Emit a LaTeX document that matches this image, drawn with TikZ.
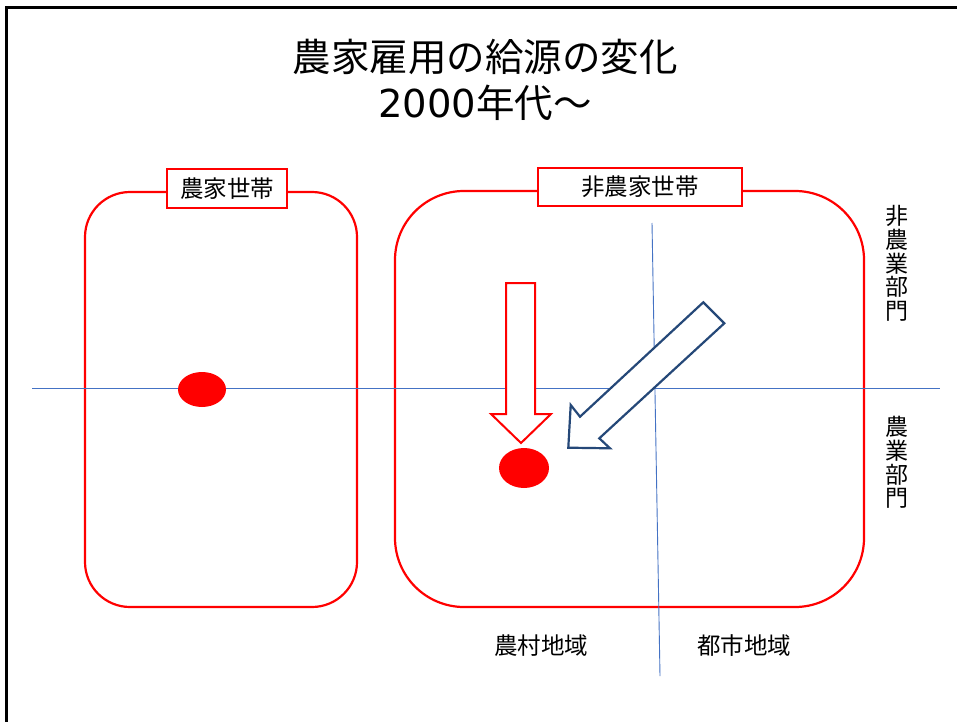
\documentclass[tikz,border=0pt]{standalone}
\usepackage{fontspec}
\setmainfont{Noto Sans CJK JP}
\newfontfamily\digitfont{DejaVu Sans}
\usetikzlibrary{shapes.geometric}
\definecolor{axisblue}{RGB}{68,114,196}
\definecolor{arrowblue}{RGB}{37,72,120}
\tikzset{
  household/.style={draw=red, line width=2.2pt, minimum width=#1, inner sep=0pt, outer sep=0pt},
  tag/.style={draw=red, line width=2pt, fill=white, inner sep=0pt, outer sep=0pt, font=\fontsize{23.5}{26}\selectfont},
  dot/.style={ellipse, fill=red, draw=none, inner sep=0pt},
  axis/.style={draw=axisblue, line width=0.9pt},
  vlabel/.style={align=center, font=\fontsize{23}{23.6}\selectfont, inner sep=0pt},
  blabel/.style={font=\fontsize{23.5}{26}\selectfont, inner sep=0pt}
}
\begin{document}
\begin{tikzpicture}[x=1pt,y=-1pt]
\useasboundingbox (0,0) rectangle (957,722);
\fill[white] (0,0) rectangle (957,722);
% frame
\coordinate (fTL) at (6,7.5);
\coordinate (fTR) at (957,7.5);
\coordinate (fBL) at (6,722);
\draw[line width=3pt, line cap=butt] (fTR) -- (fTL) -- (fBL);
% title
\node[align=center, font=\fontsize{38.5}{46}\selectfont, inner sep=0pt] (title) at (485,80) {農家雇用の給源の変化\\{\digitfont 2000}年代～};
% households
\node[household=272pt, minimum height=415pt, rounded corners=45pt] (farm) at (221,399.5) {};
\node[household=469pt, minimum height=416pt, rounded corners=69pt] (nonfarm) at (629.5,399) {};
% axes
\coordinate (hL) at (32,388.5);
\coordinate (hR) at (940,388.5);
\draw[axis] (hL) -- (hR);
\coordinate (vT) at (652,223);
\coordinate (vB) at (660,676);
\draw[axis] (vT) -- (vB);
% tags
\node[tag, minimum width=120pt, minimum height=39pt] (farmtag) at (227,188.5) {農家世帯};
\node[tag, minimum width=204pt, minimum height=38pt] (nonfarmtag) at (640,187) {非農家世帯};
% dots
\node[dot, minimum width=48pt, minimum height=35pt] (dotA) at (202,389.5) {};
\node[dot, minimum width=50pt, minimum height=40pt] (dotB) at (524,468) {};
% red down arrow
\draw[red, line width=2pt, fill=white, line join=miter]
  (506,283) -- (535,283) -- (535,414) -- (551,414) -- (521,443) -- (491,414) -- (506,414) -- cycle;
% blue diagonal arrow
\draw[arrowblue, line width=2.2pt, fill=white, line join=miter]
  (568.3,447.7) -- (570.7,405) -- (580,416.7) -- (703.3,302.3) -- (724.3,323.3) -- (599.3,438.3) -- (610,448.3) -- cycle;
% side labels
\node[vlabel] (nonagri) at (897,263.5) {非\\農\\業\\部\\門};
\node[vlabel] (agri) at (897,462.5) {農\\業\\部\\門};
% bottom labels
\node[blabel] (rural) at (541,646) {農村地域};
\node[blabel] (urban) at (744,646) {都市地域};
\end{tikzpicture}
\end{document}
